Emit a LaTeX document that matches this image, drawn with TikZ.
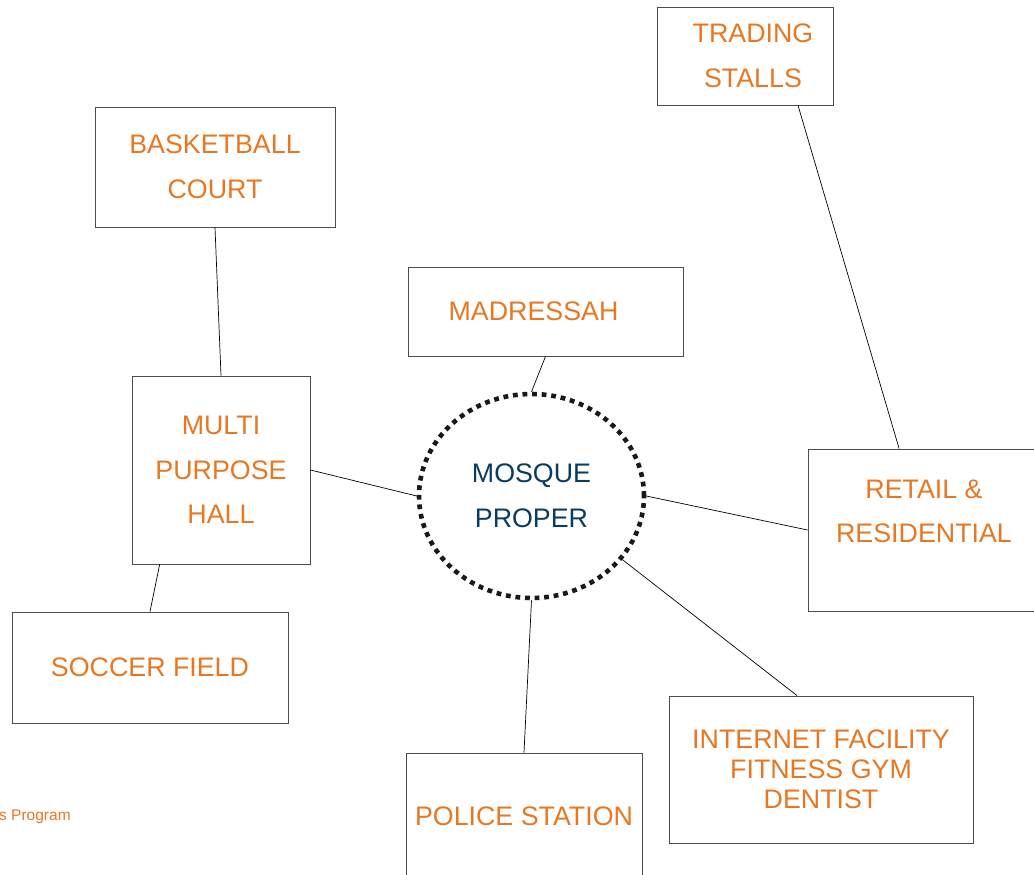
\documentclass[tikz,border=0pt]{standalone}
\usepackage{fontspec}
\setmainfont{Liberation Sans}
\usetikzlibrary{shapes.geometric}
\definecolor{siteorange}{RGB}{232,119,34}
\definecolor{mosqueblue}{RGB}{8,60,96}

\begin{document}
\begin{tikzpicture}[x=1pt,y=-1pt,
  box/.style={draw=black!70, line width=0.9pt, rectangle, align=center,
    text=siteorange, font=\fontsize{26.8}{44.5}\selectfont, inner sep=0pt},
  link/.style={draw=black, line width=0.7pt}]
\useasboundingbox (0,0) rectangle (1034,875);
\clip (0,0) rectangle (1034,875);

% Mosque in the middle
\node[ellipse, draw=black!90, line width=4.6pt, dash pattern=on 4.8pt off 4.8pt,
  minimum width=225pt, minimum height=204pt, inner sep=0pt, align=center,
  text=mosqueblue, font=\fontsize{26.8}{44.5}\selectfont] (mosque) at (531.5,496) {MOSQUE\\PROPER};

% Surrounding facilities
\node[box, minimum width=176pt, minimum height=98pt] (trading) at (745,56) {\hspace*{16pt}TRADING\\\hspace*{16pt}STALLS};
\node[box, minimum width=240pt, minimum height=120pt] (bball) at (215,167) {BASKETBALL\\COURT};
\node[box, minimum width=275pt, minimum height=89pt] (madressah) at (545.5,311.5) {MADRESSAH\hspace*{24pt}};
\node[box, minimum width=178pt, minimum height=188pt] (hall) at (221,470) {MULTI\\PURPOSE\\HALL};
\node[box, minimum width=232pt, minimum height=162pt, text depth=38pt] (retail) at (924,530) {RETAIL \&\\RESIDENTIAL};
\node[box, minimum width=276pt, minimum height=111pt] (soccer) at (150,667.5) {SOCCER FIELD};
\node[box, minimum width=304pt, minimum height=147pt, font=\fontsize{26.8}{30}\selectfont] (internet) at (821,769.5) {INTERNET FACILITY\\FITNESS GYM\\DENTIST};
\node[box, minimum width=236pt, minimum height=127pt] (police) at (524,816.5) {POLICE STATION};

% Links
\draw[link] (bball.south) -- (hall.north);
\draw[link] (trading.-43) -- (retail.107);
\draw[link] (madressah.south) -- (mosque.north);
\draw[link] (hall.east) -- (mosque.west);
\draw[link] (mosque.east) -- (retail.west);
\draw[link] (hall.-123) -- (soccer.north);
\draw[link] (mosque.south) -- (police.north);
\draw[link] (mosque.-35) -- (internet.108);

% Footer text cut at the edge
\node[anchor=west, inner sep=0pt, text=siteorange, font=\fontsize{15.5}{18}\selectfont] (footer) at (-1,817) {s Program};

\end{tikzpicture}
\end{document}
